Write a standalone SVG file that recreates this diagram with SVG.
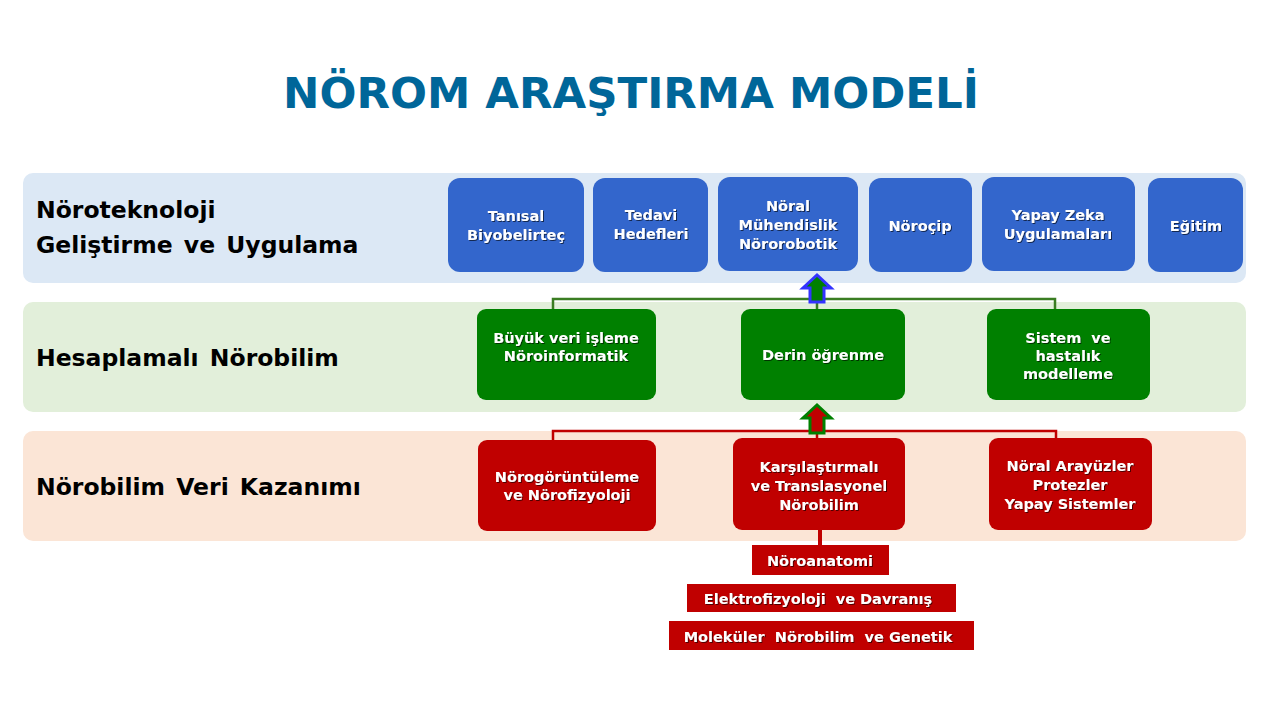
<svg xmlns="http://www.w3.org/2000/svg" width="1280" height="720" viewBox="0 0 1280 720">
<style>
.t{font-family:"DejaVu Sans",Verdana,sans-serif;font-weight:bold;text-anchor:middle;fill:#fff;font-size:14.5px;filter:url(#sh);white-space:pre}
.lbl{font-family:"DejaVu Sans",Verdana,sans-serif;font-weight:bold;font-size:23.5px;fill:#000;word-spacing:3px}
.b{fill:#3366cc}.g{fill:#008000}.r{fill:#c00000}
</style>
<defs><filter id="sh" x="-10%" y="-20%" width="120%" height="140%"><feDropShadow dx="1" dy="1" stdDeviation="0.5" flood-color="#000" flood-opacity="0.6"/></filter></defs>
<rect width="1280" height="720" fill="#fff"/>
<text x="631" y="108" font-family="DejaVu Sans,Verdana,sans-serif" font-weight="bold" font-size="43.5" fill="#006699" text-anchor="middle">NÖROM ARAŞTIRMA MODELİ</text>
<rect x="23" y="173" width="1223" height="110" rx="10" fill="#dce8f5"/>
<rect x="23" y="302" width="1223" height="110" rx="10" fill="#e2efda"/>
<rect x="23" y="431" width="1223" height="110" rx="10" fill="#fbe5d6"/>
<text class="lbl" x="36" y="218">Nöroteknoloji</text>
<text class="lbl" x="36" y="253">Geliştirme ve Uygulama</text>
<text class="lbl" x="36" y="366">Hesaplamalı Nörobilim</text>
<text class="lbl" x="36" y="495">Nörobilim Veri Kazanımı</text>
<g id="connectors">
<path d="M553 309V299H1055V309M817 299V309" fill="none" stroke="#3a7d22" stroke-width="2.5"/>
<path d="M553 440V431H1056V440M817 431V438" fill="none" stroke="#c00000" stroke-width="2.5"/>
<path d="M820 530V545" stroke="#c00000" stroke-width="4"/>
<path d="M810 302V288H803L817 275L831 288H824V302Z" fill="#008000" stroke="#3333ff" stroke-width="3"/>
<path d="M810 433V418H803L817 405L831 418H824V433Z" fill="#c00000" stroke="#008000" stroke-width="3"/>
</g>
<g id="n1"><rect class="b" x="448" y="178" width="136" height="94" rx="12"/><text class="t" x="516" y="221">Tanısal</text><text class="t" x="516" y="240">Biyobelirteç</text></g>
<g id="n2"><rect class="b" x="593" y="178" width="115" height="94" rx="12"/><text class="t" x="651" y="220">Tedavi</text><text class="t" x="651" y="239">Hedefleri</text></g>
<g id="n3"><rect class="b" x="718" y="177" width="140" height="94" rx="12"/><text class="t" x="788" y="211">Nöral</text><text class="t" x="788" y="230">Mühendislik</text><text class="t" x="788" y="249">Nörorobotik</text></g>
<g id="n4"><rect class="b" x="869" y="178" width="103" height="94" rx="12"/><text class="t" x="920" y="231">Nöroçip</text></g>
<g id="n5"><rect class="b" x="982" y="177" width="153" height="94" rx="12"/><text class="t" x="1058" y="220">Yapay Zeka</text><text class="t" x="1058" y="239">Uygulamaları</text></g>
<g id="n6"><rect class="b" x="1148" y="178" width="95" height="94" rx="12"/><text class="t" x="1196" y="231">Eğitim</text></g>
<g id="g1"><rect class="g" x="477" y="309" width="179" height="91" rx="9"/><text class="t" x="566" y="343">Büyük veri işleme</text><text class="t" x="566" y="361">Nöroinformatik</text></g>
<g id="g2"><rect class="g" x="741" y="309" width="164" height="91" rx="9"/><text class="t" x="823" y="360">Derin öğrenme</text></g>
<g id="g3"><rect class="g" x="987" y="309" width="163" height="91" rx="9"/><text class="t" x="1068" y="343" xml:space="preserve">Sistem  ve</text><text class="t" x="1068" y="361">hastalık</text><text class="t" x="1068" y="379">modelleme</text></g>
<g id="r1"><rect class="r" x="478" y="440" width="178" height="91" rx="9"/><text class="t" x="567" y="482">Nörogörüntüleme</text><text class="t" x="567" y="500">ve Nörofizyoloji</text></g>
<g id="r2"><rect class="r" x="733" y="438" width="172" height="92" rx="9"/><text class="t" x="819" y="472">Karşılaştırmalı</text><text class="t" x="819" y="491">ve Translasyonel</text><text class="t" x="819" y="510">Nörobilim</text></g>
<g id="r3"><rect class="r" x="989" y="438" width="163" height="92" rx="9"/><text class="t" x="1070" y="471">Nöral Arayüzler</text><text class="t" x="1070" y="490">Protezler</text><text class="t" x="1070" y="509">Yapay Sistemler</text></g>
<g id="s1"><rect class="r" x="752" y="545" width="137" height="30"/><text class="t" x="820" y="566">Nöroanatomi</text></g>
<g id="s2"><rect class="r" x="687" y="584" width="269" height="28"/><text class="t" x="818" y="604" xml:space="preserve">Elektrofizyoloji  ve Davranış</text></g>
<g id="s3"><rect class="r" x="669" y="621" width="305" height="29"/><text class="t" x="818" y="642" xml:space="preserve">Moleküler  Nörobilim  ve Genetik</text></g>
</svg>
